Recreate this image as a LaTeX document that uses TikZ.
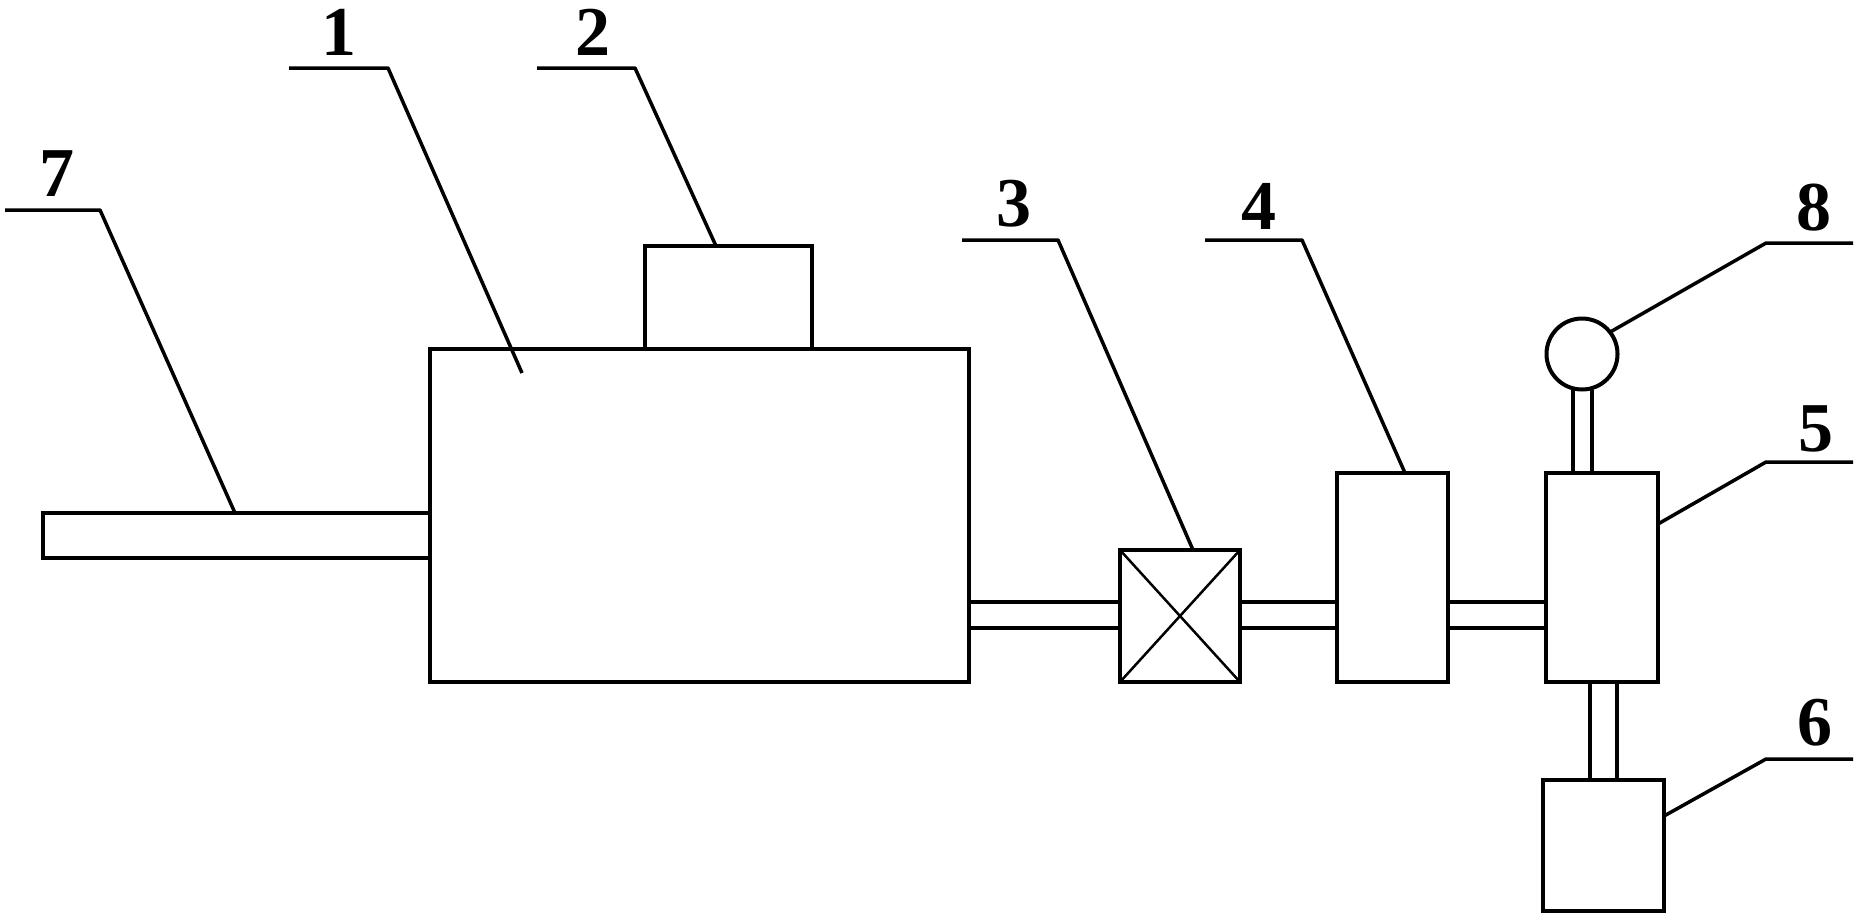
\documentclass[tikz,border=0pt]{standalone}
\usepackage{fontspec}
\setmainfont{Liberation Serif}
\begin{document}
\begin{tikzpicture}[x=1pt,y=-1pt,
  part/.style={draw=black,line width=4pt,inner sep=0pt,outer sep=0pt,anchor=north west,line join=miter},
  pipeline/.style={draw=black,line width=4pt},
  leader/.style={draw=black,line width=3.5pt,line join=round},
  num/.style={font=\fontsize{70}{70}\selectfont\bfseries,inner sep=0pt,text=black}]
\useasboundingbox (0,0) rectangle (1859,916);
% parts
\node[part,minimum width=539pt,minimum height=333pt] (tank) at (430,349) {};
\node[part,minimum width=167pt,minimum height=103pt] (cap) at (645,246) {};
\node[part,minimum width=387pt,minimum height=45pt] (inlet) at (43,513) {};
\node[part,minimum width=120pt,minimum height=132pt] (valve) at (1120,550) {};
\node[part,minimum width=111pt,minimum height=209pt] (filter) at (1337,473) {};
\node[part,minimum width=112pt,minimum height=209pt] (pump) at (1546,473) {};
\node[part,minimum width=121pt,minimum height=131pt] (motor) at (1543,780) {};
\node[draw=black,line width=4pt,circle,inner sep=0pt,outer sep=0pt,minimum size=71pt] (gauge) at (1582,354) {};
% valve cross
\draw[line width=2.5pt] (valve.north west) -- (valve.south east);
\draw[line width=2.5pt] (valve.north east) -- (valve.south west);
% pipes
\coordinate (pa) at (0,602);
\coordinate (pb) at (0,628);
\draw[pipeline] (tank.east |- pa) -- (valve.west |- pa);
\draw[pipeline] (tank.east |- pb) -- (valve.west |- pb);
\draw[pipeline] (valve.east |- pa) -- (filter.west |- pa);
\draw[pipeline] (valve.east |- pb) -- (filter.west |- pb);
\draw[pipeline] (filter.east |- pa) -- (pump.west |- pa);
\draw[pipeline] (filter.east |- pb) -- (pump.west |- pb);
\coordinate (sa) at (1573,0);
\coordinate (sb) at (1592,0);
\draw[pipeline] (gauge.south -| sa) -- (pump.north -| sa);
\draw[pipeline] (gauge.south -| sb) -- (pump.north -| sb);
\coordinate (ma) at (1590,0);
\coordinate (mb) at (1617,0);
\draw[pipeline] (pump.south -| ma) -- (motor.north -| ma);
\draw[pipeline] (pump.south -| mb) -- (motor.north -| mb);
% labels
\node[num] (n1) at (339,32) {1};
\node[num] (n2) at (593,32) {2};
\node[num] (n3) at (1014,204) {3};
\node[num] (n4) at (1259,206) {4};
\node[num] (n5) at (1816,429) {5};
\node[num] (n6) at (1815,723) {6};
\node[num] (n7) at (57,174) {7};
\node[num] (n8) at (1814,208) {8};
% leaders
\coordinate (l1a) at (289,68); \coordinate (l1b) at (388,68); \coordinate (l1c) at (522,373);
\draw[leader] (l1a) -- (l1b) -- (l1c);
\coordinate (l2a) at (537,68); \coordinate (l2b) at (635,68); \coordinate (l2c) at (716,0);
\draw[leader] (l2a) -- (l2b) -- (cap.north -| l2c);
\coordinate (l3a) at (962,240); \coordinate (l3b) at (1058,240); \coordinate (l3c) at (1193,0);
\draw[leader] (l3a) -- (l3b) -- (valve.north -| l3c);
\coordinate (l4a) at (1205,240); \coordinate (l4b) at (1302,240); \coordinate (l4c) at (1405,0);
\draw[leader] (l4a) -- (l4b) -- (filter.north -| l4c);
\coordinate (l5a) at (1853,462); \coordinate (l5b) at (1766,462); \coordinate (l5c) at (0,524);
\draw[leader] (l5a) -- (l5b) -- (pump.east |- l5c);
\coordinate (l6a) at (1853,759); \coordinate (l6b) at (1766,759); \coordinate (l6c) at (0,816);
\draw[leader] (l6a) -- (l6b) -- (motor.east |- l6c);
\coordinate (l7a) at (5,210); \coordinate (l7b) at (100,210); \coordinate (l7c) at (235,0);
\draw[leader] (l7a) -- (l7b) -- (inlet.north -| l7c);
\coordinate (l8a) at (1853,243); \coordinate (l8b) at (1766,243);
\draw[leader] (l8a) -- (l8b) -- (gauge.38);
\end{tikzpicture}
\end{document}
